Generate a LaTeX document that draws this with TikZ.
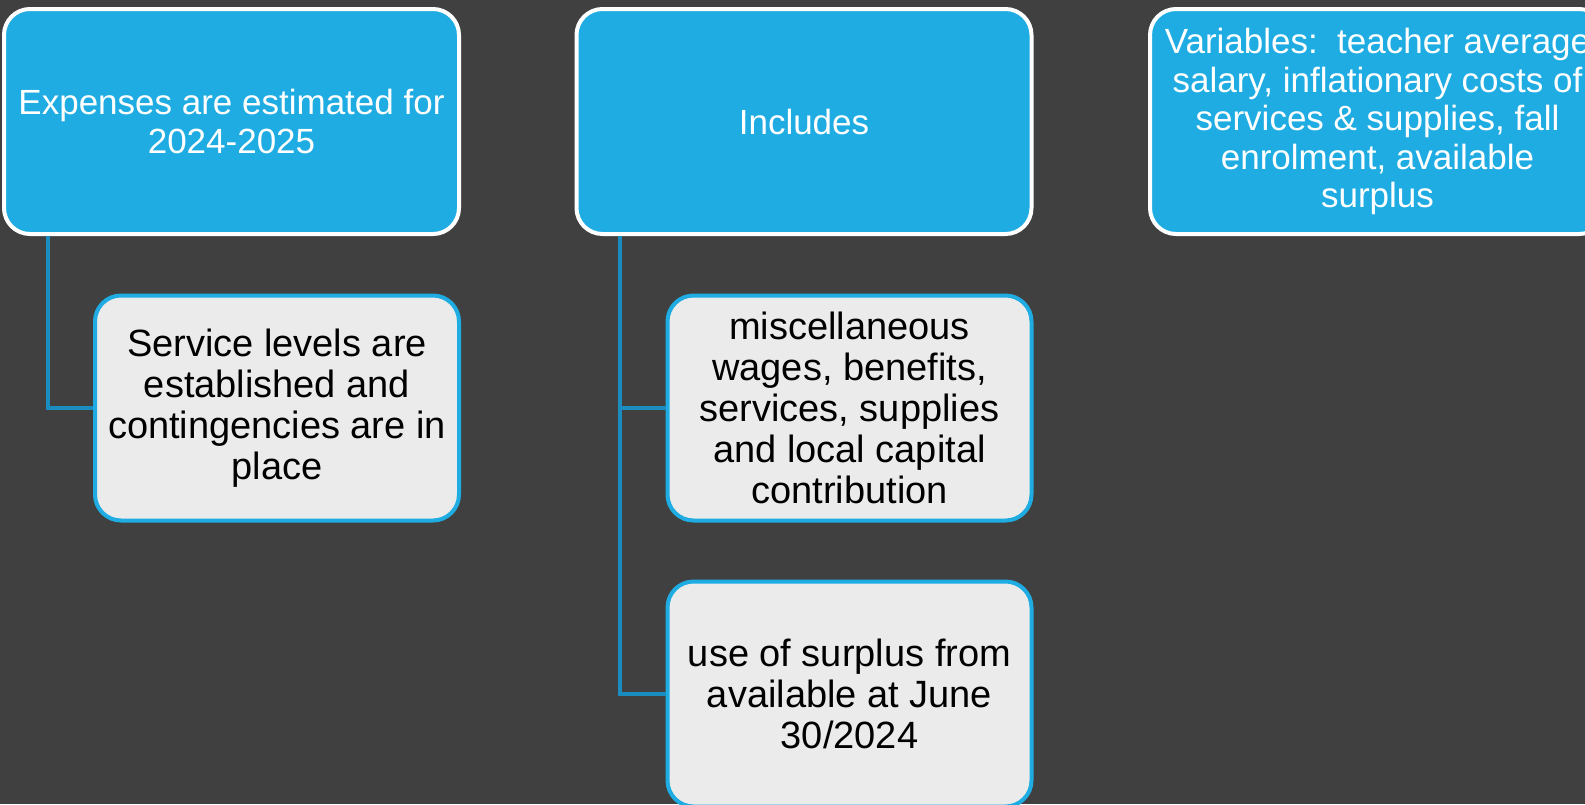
\documentclass[tikz,border=0pt]{standalone}
\usepackage{fontspec}
\setmainfont{Liberation Sans}
\usepackage{xcolor}
\usetikzlibrary{positioning,calc}
\definecolor{bgrey}{HTML}{404040}
\definecolor{sblue}{HTML}{1EACE2}
\definecolor{lblue}{HTML}{1A8CC0}
\definecolor{pgrey}{HTML}{EBEBEB}

\begin{document}
\begin{tikzpicture}[x=1pt,y=-1pt,
    head/.style={draw=white, fill=sblue, line width=4pt, rounded corners=26pt,
        minimum width=455pt, minimum height=225pt, align=center, text=white,
        font=\fontsize{35}{38.5}\selectfont},
    item/.style={draw=sblue, fill=pgrey, line width=4pt, rounded corners=26pt,
        minimum width=364pt, minimum height=225pt, align=center, text=black,
        font=\fontsize{38}{41}\selectfont},
    link/.style={draw=lblue, line width=4pt}]
    \useasboundingbox (0,0) rectangle (1585,804);
    \fill[bgrey] (0,0) rectangle (1585,804);
    \node[head] (exp) at (231.5,121.5) {Expenses are estimated for\\2024-2025};
    \node[head] (inc) at (804,121.5) {Includes};
    \node[head] (var) at (1377.5,121.5) {Variables:\ \ teacher average\\salary, inflationary costs of\\services \& supplies, fall\\enrolment, available\\surplus};
    \node[item] (svc) at (277,408) {Service levels are\\established and\\contingencies are in\\place};
    \node[item] (misc) at (849.5,408) {miscellaneous\\wages, benefits,\\services, supplies\\and local capital\\contribution};
    \node[item] (use) at (849.5,694) {use of surplus from\\available at June\\30/2024};
    \draw[link] ([xshift=45.5pt]exp.south west) |- (svc.west);
    \draw[link] ([xshift=45.5pt]inc.south west) |- (misc.west);
    \draw[link] ([xshift=45.5pt]inc.south west) |- (use.west);
\end{tikzpicture}
\end{document}
